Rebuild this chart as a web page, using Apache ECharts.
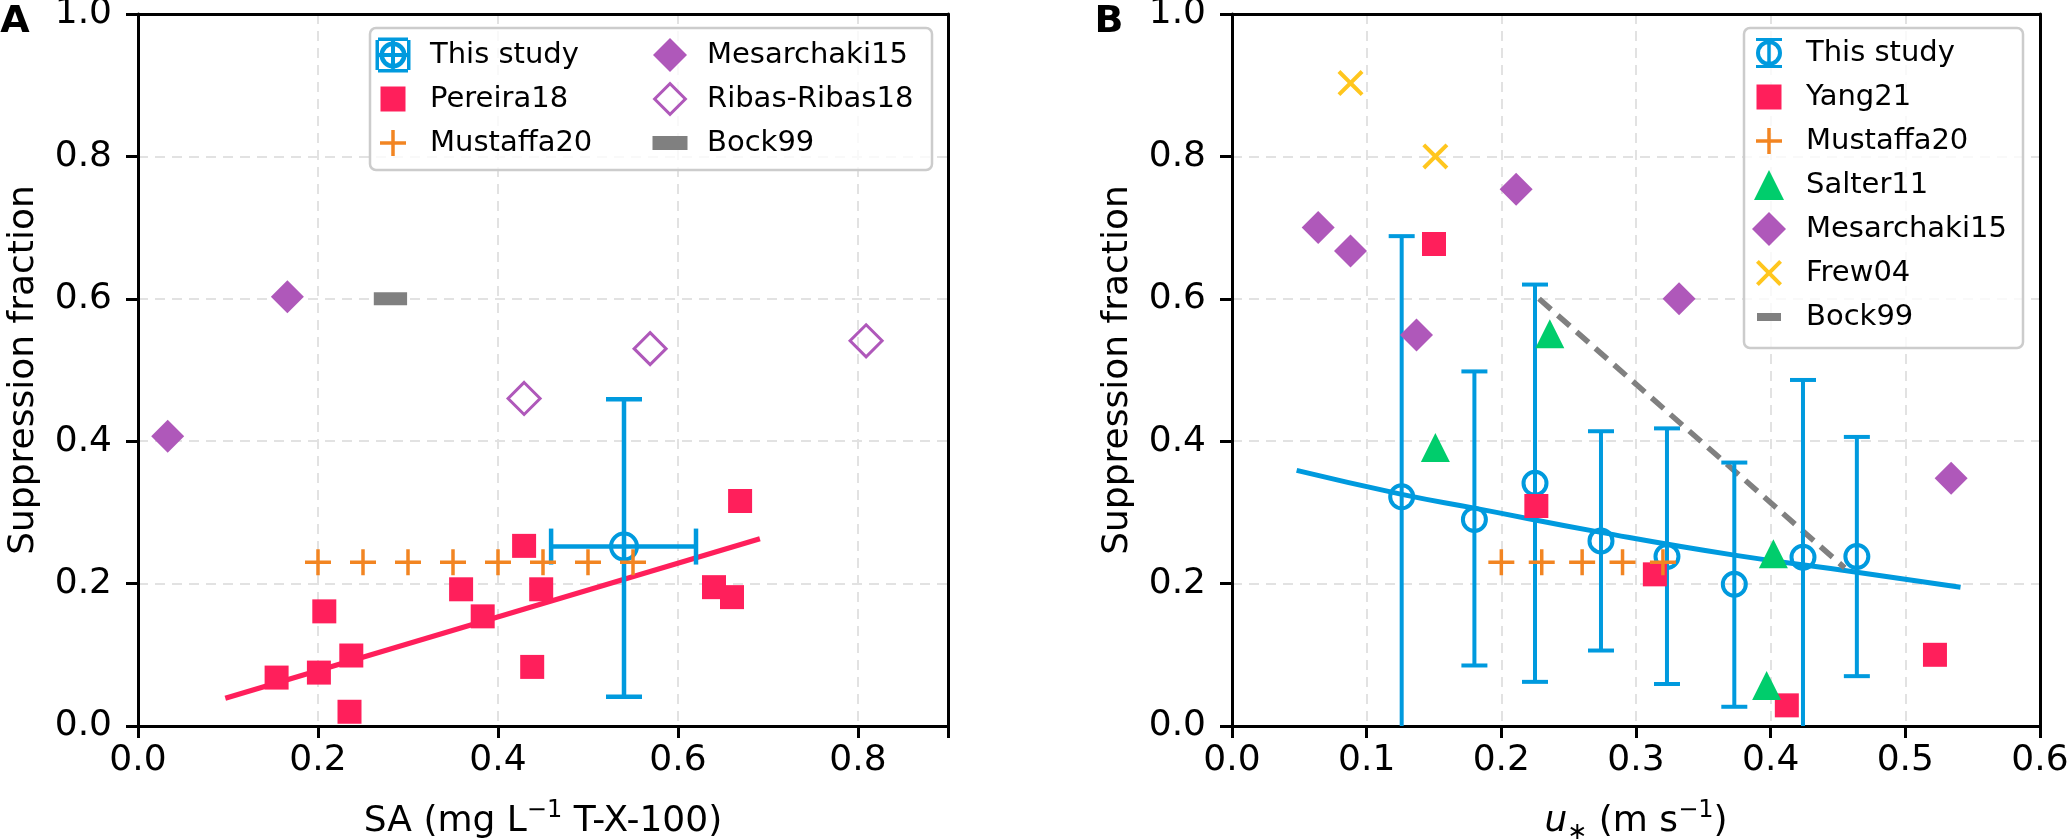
<!DOCTYPE html>
<html><head><meta charset="utf-8">
<script src="https://cdn.jsdelivr.net/npm/echarts@6/dist/echarts.min.js"></script>
<style>html,body{margin:0;padding:0;background:#fff}#c{width:2067px;height:840px}</style>
</head><body><div id="c"></div>
<script>
// ---------------- data ----------------
const xTicksA = [0, 0.2, 0.4, 0.6, 0.8];
const xTicksB = [0, 0.1, 0.2, 0.3, 0.4, 0.5, 0.6];
const yTicks = [0, 0.2, 0.4, 0.6, 0.8, 1.0];

// Panel A
const thisA_x = [0.54];
const thisA_y = [0.252];
const thisA_ylo = [0.041];
const thisA_yhi = [0.459];
const thisA_xlo = [0.459];
const thisA_xhi = [0.620];
const pereira_x = [0.154, 0.201, 0.207, 0.237, 0.235, 0.359, 0.383, 0.429, 0.448, 0.438, 0.640, 0.660, 0.669];
const pereira_y = [0.068, 0.075, 0.161, 0.099, 0.020, 0.192, 0.154, 0.253, 0.192, 0.083, 0.195, 0.181, 0.316];
const pereiraFit_x = [0.097, 0.691];
const pereiraFit_y = [0.039, 0.263];
const mustA_x = [0.20, 0.25, 0.30, 0.35, 0.40, 0.45, 0.50, 0.55];
const mustA_y = [0.23, 0.23, 0.23, 0.23, 0.23, 0.23, 0.23, 0.23];
const mesA_x = [0.033, 0.166];
const mesA_y = [0.407, 0.603];
const ribas_x = [0.429, 0.569, 0.809];
const ribas_y = [0.460, 0.530, 0.541];
const bockA_x = [0.262, 0.299];
const bockA_y = [0.600, 0.600];

// Panel B
const thisB_x = [0.126, 0.180, 0.225, 0.274, 0.323, 0.373, 0.424, 0.464];
const thisB_y = [0.322, 0.290, 0.341, 0.260, 0.238, 0.199, 0.237, 0.238];
const thisB_lo = [-0.05, 0.085, 0.062, 0.106, 0.059, 0.027, -0.05, 0.070];
const thisB_hi = [0.688, 0.498, 0.620, 0.414, 0.418, 0.370, 0.486, 0.406];
const fitB_x = [0.048, 0.127, 0.180, 0.274, 0.373, 0.464, 0.541];
const fitB_y = [0.359, 0.325, 0.306, 0.272, 0.240, 0.216, 0.195];
const yang_x = [0.150, 0.226, 0.314, 0.412, 0.522];
const yang_y = [0.677, 0.309, 0.213, 0.029, 0.100];
const mustB_x = [0.20, 0.23, 0.26, 0.29, 0.32];
const mustB_y = [0.23, 0.23, 0.23, 0.23, 0.23];
const salter_x = [0.151, 0.236, 0.402, 0.397];
const salter_y = [0.391, 0.551, 0.242, 0.057];
const mesB_x = [0.064, 0.088, 0.137, 0.211, 0.332, 0.534];
const mesB_y = [0.700, 0.667, 0.549, 0.754, 0.600, 0.348];
const frew_x = [0.088, 0.151];
const frew_y = [0.903, 0.800];
const bockB_x = [0.228, 0.455];
const bockB_y = [0.600, 0.222];

// ---------------- style ----------------
const FONT = 'DejaVu Sans';
const RED = '#FF1F5B', GREEN = '#00CD6C', BLUE = '#009ADE', PURPLE = '#AF58BA',
      YELLOW = '#FFC61E', ORANGE = '#F28522', GRAY = '#808080';

const zip = (xs, ys) => xs.map((x, i) => [x, ys[i]]);

const PLUS = 'path://M11.25 0H14.75V11.25H26V14.75H14.75V26H11.25V14.75H0V11.25H11.25Z';
const XMARK = 'path://M0 2.83L2.83 0L13 10.17L23.17 0L26 2.83L15.83 13L26 23.17L23.17 26L13 15.83L2.83 26L0 23.17L10.17 13Z';

const F = 'path://M0 0M50 36';
const IC_SQ = F + 'M5.5 5.5H30.5V30.5H5.5Z';
const IC_PLUS = F + 'M16.25 5H19.75V16.25H31V19.75H19.75V31H16.25V19.75H5V16.25H16.25Z';
const IC_TRI = F + 'M18 3L33 33H3Z';
const IC_DIA = F + 'M18 1L35 18L18 35L1 18Z';
const IC_DIA_OPEN = F + 'M18 0.5L35.5 18L18 35.5L0.5 18ZM18 4.7L4.7 18L18 31.3L31.3 18Z';
const IC_X = F + 'M5 7.83L7.83 5L18 15.17L28.17 5L31 7.83L20.83 18L31 28.17L28.17 31L18 20.83L7.83 31L5 28.17L15.17 18Z';
const IC_BOCK_A = F + 'M0.5 11H35.5V25H0.5Z';
const IC_BOCK_B = F + 'M6 14H30V22H6Z';
const IC_THIS_B = F + 'M5 3H31V6H5ZM5 30H31V33H5ZM16.25 3H19.75V33H16.25ZM5 18A13 13 0 1 1 31 18A13 13 0 1 1 5 18ZM9 18A9 9 0 1 0 27 18A9 9 0 1 0 9 18Z';
const IC_THIS_A = F + 'M0.5 16H35.5V20H0.5ZM16 0.5H20V35.5H16ZM3 0.5H33V4H3ZM3 32H33V35.5H3ZM0.5 3H4V33H0.5ZM32 3H35.5V33H32ZM4.5 18A13.5 13.5 0 1 1 31.5 18A13.5 13.5 0 1 1 4.5 18ZM9 18A9 9 0 1 0 27 18A9 9 0 1 0 9 18Z';

function fmt(ticks) {
  return v => ticks.some(t => Math.abs(t - v) < 1e-9) ? v.toFixed(1) : '';
}

const nameRich = {
  n: { fontSize: 36, fontFamily: FONT, color: '#000', lineHeight: 46 },
  i: { fontSize: 36, fontFamily: FONT, color: '#000', lineHeight: 46, fontStyle: 'italic' },
  sup: { fontSize: 24, fontFamily: FONT, color: '#000', lineHeight: 30, verticalAlign: 'top' },
  sub: { fontSize: 24, fontFamily: FONT, color: '#000', lineHeight: 28, verticalAlign: 'bottom' }
};

const SPLIT = { show: true, lineStyle: { color: '#e2e2e2', width: 2, type: [10, 7] } };

function makeX(gi, max, interval, ticks, name) {
  return {
    type: 'value', gridIndex: gi, min: 0, max: max, interval: interval,
    name: name, nameLocation: 'middle', nameGap: 73,
    nameTextStyle: { fontSize: 36, fontFamily: FONT, color: '#000', rich: nameRich },
    axisLine: { show: true, onZero: false, lineStyle: { color: '#000', width: 3 } },
    axisTick: { show: true, length: 12, lineStyle: { color: '#000', width: 3 } },
    axisLabel: { fontSize: 36, fontFamily: FONT, color: '#000', margin: 17, formatter: fmt(ticks) },
    splitLine: SPLIT
  };
}
function makeY(gi) {
  return {
    type: 'value', gridIndex: gi, min: 0, max: 1, interval: 0.2,
    name: 'Suppression fraction', nameLocation: 'middle', nameGap: 96,
    nameTextStyle: { fontSize: 36, fontFamily: FONT, color: '#000' },
    axisLine: { show: true, onZero: false, lineStyle: { color: '#000', width: 3 } },
    axisTick: { show: true, length: 12, lineStyle: { color: '#000', width: 3 } },
    axisLabel: { fontSize: 36, fontFamily: FONT, color: '#000', margin: 26, formatter: fmt(yTicks) },
    splitLine: SPLIT
  };
}
function borderAxis(gi, pos, max) {
  return {
    type: 'value', gridIndex: gi, position: pos, min: 0, max: max, z: 6,
    axisLine: { show: true, onZero: false, lineStyle: { color: '#000', width: 3 } },
    axisTick: { show: false }, axisLabel: { show: false }, splitLine: { show: false }
  };
}

function seg(x1, y1, x2, y2, lw) {
  return { type: 'line', shape: { x1, y1, x2, y2 }, style: { stroke: BLUE, lineWidth: lw } };
}

const thisA_data = thisA_x.map((x, i) => [x, thisA_y[i], thisA_ylo[i], thisA_yhi[i], thisA_xlo[i], thisA_xhi[i]]);
const thisB_data = thisB_x.map((x, i) => [x, thisB_y[i], thisB_lo[i], thisB_hi[i]]);

const series = [
  // ---- Panel A ----
  { type: 'line', name: 'PereiraFit', xAxisIndex: 0, yAxisIndex: 0, data: zip(pereiraFit_x, pereiraFit_y),
    showSymbol: false, lineStyle: { color: RED, width: 5 }, itemStyle: { color: RED }, z: 2 },
  { type: 'line', name: 'Bock99', xAxisIndex: 0, yAxisIndex: 0, data: zip(bockA_x, bockA_y),
    showSymbol: false, lineStyle: { color: GRAY, width: 13, cap: 'butt' }, itemStyle: { color: GRAY }, z: 2 },
  { type: 'scatter', name: 'Pereira18', xAxisIndex: 0, yAxisIndex: 0, data: zip(pereira_x, pereira_y),
    symbol: 'rect', symbolSize: 24, itemStyle: { color: RED, opacity: 1 }, z: 3 },
  { type: 'custom', name: 'This study', xAxisIndex: 0, yAxisIndex: 0, data: thisA_data, clip: true,
    encode: { x: 0, y: 1 }, itemStyle: { color: BLUE }, z: 4,
    renderItem: (params, api) => {
      const x = api.value(0), y = api.value(1);
      const c = api.coord([x, y]);
      const top = api.coord([x, api.value(3)]), bot = api.coord([x, api.value(2)]);
      const l = api.coord([api.value(4), y]), r = api.coord([api.value(5), y]);
      const cap = 18, lw = 4.5;
      return { type: 'group', children: [
        seg(c[0], top[1], c[0], bot[1], lw),
        seg(c[0] - cap, top[1], c[0] + cap, top[1], lw),
        seg(c[0] - cap, bot[1], c[0] + cap, bot[1], lw),
        seg(l[0], c[1], r[0], c[1], lw),
        seg(l[0], c[1] - cap, l[0], c[1] + cap, lw),
        seg(r[0], c[1] - cap, r[0], c[1] + cap, lw),
        { type: 'circle', shape: { cx: c[0], cy: c[1], r: 13 }, style: { stroke: BLUE, lineWidth: 4, fill: 'none' } }
      ] };
    } },
  { type: 'scatter', name: 'Mustaffa20', xAxisIndex: 0, yAxisIndex: 0, data: zip(mustA_x, mustA_y),
    symbol: PLUS, symbolSize: 26, itemStyle: { color: ORANGE, opacity: 1 }, z: 5 },
  { type: 'scatter', name: 'Mesarchaki15', xAxisIndex: 0, yAxisIndex: 0, data: zip(mesA_x, mesA_y),
    symbol: 'diamond', symbolSize: 33, itemStyle: { color: PURPLE, opacity: 1 }, z: 5 },
  { type: 'scatter', name: 'Ribas-Ribas18', xAxisIndex: 0, yAxisIndex: 0, data: zip(ribas_x, ribas_y),
    symbol: 'diamond', symbolSize: 32, itemStyle: { color: 'rgba(255,255,255,0)', borderColor: PURPLE, borderWidth: 3, opacity: 1 }, z: 5 },

  // ---- Panel B ----
  { type: 'line', name: 'FitB', xAxisIndex: 1, yAxisIndex: 1, data: zip(fitB_x, fitB_y), smooth: true,
    showSymbol: false, lineStyle: { color: BLUE, width: 5 }, itemStyle: { color: BLUE }, z: 2 },
  { type: 'line', name: 'Bock99', xAxisIndex: 1, yAxisIndex: 1, data: zip(bockB_x, bockB_y),
    showSymbol: false, lineStyle: { color: GRAY, width: 5.5, type: [16, 9] }, itemStyle: { color: GRAY }, z: 2 },
  { type: 'custom', name: 'This study', xAxisIndex: 1, yAxisIndex: 1, data: thisB_data, clip: true,
    encode: { x: 0, y: 1 }, itemStyle: { color: BLUE }, z: 3,
    renderItem: (params, api) => {
      const x = api.value(0), y = api.value(1);
      const c = api.coord([x, y]);
      const top = api.coord([x, api.value(3)]), bot = api.coord([x, api.value(2)]);
      const cap = 13, lw = 4;
      return { type: 'group', children: [
        seg(c[0], top[1], c[0], bot[1], lw),
        seg(c[0] - cap, top[1], c[0] + cap, top[1], lw),
        seg(c[0] - cap, bot[1], c[0] + cap, bot[1], lw),
        { type: 'circle', shape: { cx: c[0], cy: c[1], r: 11.5 }, style: { stroke: BLUE, lineWidth: 4, fill: 'none' } }
      ] };
    } },
  { type: 'scatter', name: 'Yang21', xAxisIndex: 1, yAxisIndex: 1, data: zip(yang_x, yang_y),
    symbol: 'rect', symbolSize: 24, itemStyle: { color: RED, opacity: 1 }, z: 4 },
  { type: 'scatter', name: 'Mustaffa20', xAxisIndex: 1, yAxisIndex: 1, data: zip(mustB_x, mustB_y),
    symbol: PLUS, symbolSize: 26, itemStyle: { color: ORANGE, opacity: 1 }, z: 4 },
  { type: 'scatter', name: 'Salter11', xAxisIndex: 1, yAxisIndex: 1, data: zip(salter_x, salter_y),
    symbol: 'triangle', symbolSize: 29, itemStyle: { color: GREEN, opacity: 1 }, z: 4 },
  { type: 'scatter', name: 'Mesarchaki15', xAxisIndex: 1, yAxisIndex: 1, data: zip(mesB_x, mesB_y),
    symbol: 'diamond', symbolSize: 33, itemStyle: { color: PURPLE, opacity: 1 }, z: 4 },
  { type: 'scatter', name: 'Frew04', xAxisIndex: 1, yAxisIndex: 1, data: zip(frew_x, frew_y),
    symbol: XMARK, symbolSize: 26, itemStyle: { color: YELLOW, opacity: 1 }, z: 4 }
];

const legendBase = {
  orient: 'vertical', padding: 0, itemWidth: 50, itemHeight: 36, itemGap: 8,
  selectedMode: false, symbolKeepAspect: true,
  textStyle: { fontSize: 29, fontFamily: FONT, color: '#000', lineHeight: 36 }, z: 10
};
const li = (name, icon, color) => ({ name, icon, itemStyle: { color: color, borderWidth: 0, borderColor: 'rgba(0,0,0,0)' } });

const option = {
  animation: false,
  backgroundColor: '#fff',
  grid: [
    { left: 138, top: 14, width: 810, height: 712, containLabel: false, outerBoundsMode: 'none' },
    { left: 1232, top: 14, width: 808, height: 712, containLabel: false, outerBoundsMode: 'none' }
  ],
  xAxis: [
    makeX(0, 0.9, 0.2, xTicksA, '{n|SA (mg L}{sup|−1}{n| T-X-100)}'),
    makeX(1, 0.6, 0.1, xTicksB, '{i|u}{sub|∗}{n| (m s}{sup|−1}{n|)}'),
    borderAxis(0, 'top', 0.9),
    borderAxis(1, 'top', 0.6)
  ],
  yAxis: [makeY(0), makeY(1), borderAxis(0, 'right', 1), borderAxis(1, 'right', 1)],
  legend: [
    Object.assign({}, legendBase, { left: 375, top: 37, data: [
      li('This study', IC_THIS_A, BLUE), li('Pereira18', IC_SQ, RED), li('Mustaffa20', IC_PLUS, ORANGE) ] }),
    Object.assign({}, legendBase, { left: 652, top: 37, data: [
      li('Mesarchaki15', IC_DIA, PURPLE), li('Ribas-Ribas18', IC_DIA_OPEN, PURPLE), li('Bock99', IC_BOCK_A, GRAY) ] }),
    Object.assign({}, legendBase, { left: 1751, top: 35, data: [
      li('This study', IC_THIS_B, BLUE), li('Yang21', IC_SQ, RED), li('Mustaffa20', IC_PLUS, ORANGE),
      li('Salter11', IC_TRI, GREEN), li('Mesarchaki15', IC_DIA, PURPLE), li('Frew04', IC_X, YELLOW),
      li('Bock99', IC_BOCK_B, GRAY) ] })
  ],
  graphic: [
    { type: 'rect', z: 8, shape: { x: 370, y: 28, width: 562, height: 142, r: 6 },
      style: { fill: 'rgba(255,255,255,0.8)', stroke: '#cccccc', lineWidth: 2.5 } },
    { type: 'rect', z: 8, shape: { x: 1744, y: 28, width: 279, height: 320, r: 6 },
      style: { fill: 'rgba(255,255,255,0.8)', stroke: '#cccccc', lineWidth: 2.5 } },
    { type: 'text', z: 10, style: { x: 15, y: 22, text: 'A', textAlign: 'center', textVerticalAlign: 'middle',
      font: 'bold 38px "DejaVu Sans"', fill: '#000' } },
    { type: 'text', z: 10, style: { x: 1109, y: 22, text: 'B', textAlign: 'center', textVerticalAlign: 'middle',
      font: 'bold 38px "DejaVu Sans"', fill: '#000' } }
  ],
  series: series
};

const chart = echarts.init(document.getElementById('c'), null, { renderer: 'canvas' });
chart.setOption(option);
</script>
</body></html>
